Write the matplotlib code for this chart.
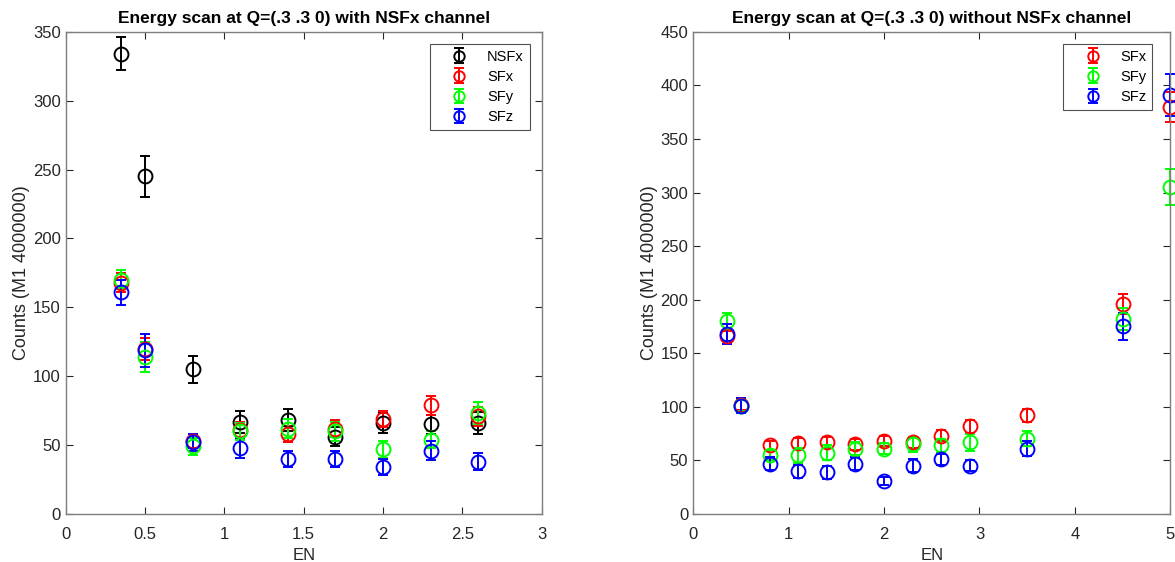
import matplotlib
matplotlib.use('Agg')
import matplotlib.pyplot as plt

plt.rcParams['font.family'] = ['Liberation Sans', 'DejaVu Sans']

# left panel: energy scan including NSFx
en_left = [0.35, 0.5, 0.8, 1.1, 1.4, 1.7, 2.0, 2.3, 2.6]
nsfx = [334, 245, 105, 67, 68, 56, 66, 65, 66]
nsfx_err = [12, 15, 10, 8, 8, 7, 7, 7, 8]
sfx_l = [168, 120, 53, 61, 58, 62, 69, 79, 71]
sfx_l_err = [7, 8, 5, 6, 6, 6, 6, 7, 7]
sfy_l = [170, 114, 49, 60, 62, 60, 47, 54, 73]
sfy_l_err = [7, 11, 6, 6, 7, 7, 6, 6, 8]
sfz_l = [161, 119, 52, 48, 40, 40, 34, 46, 38]
sfz_l_err = [9, 12, 6, 7, 6, 6, 6, 7, 6]

# right panel: energy scan without NSFx
en_right = [0.35, 0.5, 0.8, 1.1, 1.4, 1.7, 2.0, 2.3, 2.6, 2.9, 3.5, 4.5, 5.0]
sfx_r = [166, 102, 64, 66, 67, 65, 68, 67, 73, 82, 92, 196, 380]
sfx_r_err = [5, 5, 4, 5, 5, 5, 5, 5, 5, 6, 6, 9, 14]
sfy_r = [180, 101, 55, 55, 57, 61, 61, 65, 64, 67, 70, 182, 305]
sfy_r_err = [8, 5, 5, 7, 7, 6, 5, 7, 6, 8, 7, 10, 17]
sfz_r = [168, 101, 47, 40, 39, 47, 31, 45, 51, 45, 61, 175, 391]
sfz_r_err = [9, 7, 6, 6, 6, 6, 4, 6, 5, 5, 7, 13, 20]

axis_col = '#262626'


def draw_series(ax, x, y, e, color, label):
    ax.errorbar(x, y, yerr=e, fmt='o', color=color, mfc='none', mec=color,
                ms=10, mew=1.4, elinewidth=1.4, capsize=3.3, capthick=1.4,
                label=label, clip_on=False)


def style_axes(ax, title, leg_anchor):
    ax.set_title(title, fontsize=12.5, fontweight='bold', pad=6)
    ax.set_xlabel('EN', fontsize=12, color=axis_col, labelpad=5)
    ax.set_ylabel('Counts (M1 4000000)', fontsize=13, color=axis_col, labelpad=2)
    ax.tick_params(direction='in', top=True, right=True, labelsize=12,
                   colors=axis_col, length=5)
    ax.tick_params(axis='x', pad=9)
    for s in ax.spines.values():
        s.set_color('#7f7f7f')
        s.set_linewidth(1.0)
    leg = ax.legend(loc='upper right', bbox_to_anchor=leg_anchor, fontsize=10.5,
                    frameon=True, fancybox=False, edgecolor=axis_col,
                    borderaxespad=0, borderpad=0.4, handlelength=3.2,
                    handletextpad=0.3, labelspacing=0.42, markerscale=0.75)
    leg.get_frame().set_linewidth(0.8)


fig = plt.figure(figsize=(11.75, 5.62), dpi=100)
ax1 = fig.add_axes([0.056, 0.0854, 0.405, 0.858])
ax2 = fig.add_axes([0.590, 0.0854, 0.406, 0.858])

draw_series(ax1, en_left, nsfx, nsfx_err, 'k', 'NSFx')
draw_series(ax1, en_left, sfx_l, sfx_l_err, '#ff0000', 'SFx')
draw_series(ax1, en_left, sfy_l, sfy_l_err, '#00ff00', 'SFy')
draw_series(ax1, en_left, sfz_l, sfz_l_err, '#0000ff', 'SFz')
ax1.set_xlim(0, 3)
ax1.set_ylim(0, 350)
ax1.set_xticks([0, 0.5, 1, 1.5, 2, 2.5, 3])
ax1.set_xticklabels(['0', '0.5', '1', '1.5', '2', '2.5', '3'])
ax1.set_yticks(range(0, 351, 50))
style_axes(ax1, 'Energy scan at Q=(.3 .3 0) with NSFx channel', (0.975, 0.975))

draw_series(ax2, en_right, sfx_r, sfx_r_err, '#ff0000', 'SFx')
draw_series(ax2, en_right, sfy_r, sfy_r_err, '#00ff00', 'SFy')
draw_series(ax2, en_right, sfz_r, sfz_r_err, '#0000ff', 'SFz')
ax2.set_xlim(0, 5)
ax2.set_ylim(0, 450)
ax2.set_xticks(range(0, 6))
ax2.set_yticks(range(0, 451, 50))
style_axes(ax2, 'Energy scan at Q=(.3 .3 0) without NSFx channel', (0.962, 0.975))

fig.savefig('out.png', dpi=100)
